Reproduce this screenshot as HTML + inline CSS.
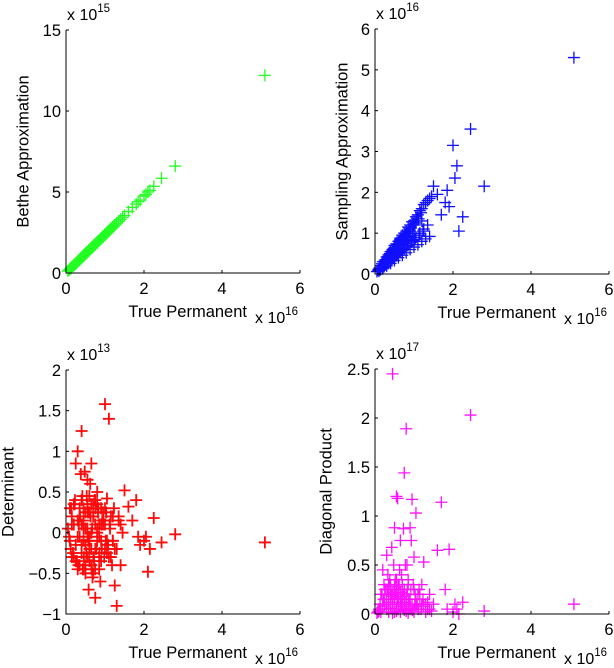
<!DOCTYPE html>
<html><head><meta charset="utf-8">
<style>
html,body{margin:0;padding:0;background:#fff;}
svg{display:block;font-family:"Liberation Sans",Arial,sans-serif;}
</style></head>
<body>
<svg id="fig" width="614" height="668" viewBox="0 0 614 668" xmlns="http://www.w3.org/2000/svg"></svg>
<script>
// Shared true-permanent values (x 1e16)
const truePermanent = [
0.05,0.1,0.15,0.2,0.25,0.3,0.35,0.4,0.45,0.5,0.55,0.6,0.65,0.7,0.75,0.8,0.85,0.9,0.95,1.0,1.05,1.1,1.15,1.2,1.25,1.3,1.35,1.4,
0.08,0.13,0.18,0.23,0.28,0.33,0.38,0.43,0.48,0.53,0.58,0.63,0.68,0.73,0.78,0.83,0.88,0.93,0.98,1.03,1.08,1.13,1.18,1.23,
0.12,0.22,0.32,0.42,0.52,0.62,0.72,0.82,0.92,1.02,1.12,0.36,0.46,0.56,0.66,0.76,0.86,0.96,0.57,0.67,
1.5,1.6,1.7,1.8,1.85,1.9,2.0,2.05,2.1,2.15,2.25,2.45,2.8,5.1,
0.15,0.25,0.35,0.45,0.55,0.65,0.75,0.85,0.95,1.05,0.3,0.4,0.5,0.6,0.7,0.8,0.9,0.5,0.6,0.7,0.55,0.65,0.45,0.75,
0.1,0.2,0.3,0.4,0.5,0.6,0.7,0.8,0.9,1.0,1.1,1.2,1.3,1.4,
0.15,0.25,0.35,0.45,0.55,0.65,0.75,0.85,0.95,1.05,1.15,1.25,1.35,1.45,
0.3,0.4,0.5,0.6,0.7,0.8,0.9,1.0,0.35,0.45,0.55,0.65,0.75,0.85,0.2,0.4,0.6,0.8,1.0,1.2];
// Bethe approximation (x 1e15)
const betheValues = [
0.12,0.24,0.36,0.47,0.59,0.71,0.83,0.95,1.07,1.18,1.30,1.42,1.54,1.66,1.78,1.90,2.01,2.13,2.25,2.37,2.49,2.61,2.73,2.84,2.96,3.08,3.20,3.32,
0.19,0.31,0.43,0.55,0.66,0.78,0.90,1.02,1.14,1.26,1.37,1.49,1.61,1.73,1.85,1.97,2.09,2.20,2.32,2.44,2.56,2.68,2.80,2.92,
0.28,0.52,0.76,1.00,1.23,1.47,1.71,1.94,2.18,2.42,2.65,0.85,1.09,1.33,1.56,1.80,2.04,2.28,1.35,1.59,
3.55,3.8,4.05,4.25,4.4,4.5,4.75,4.85,5.0,5.1,5.35,5.85,6.6,12.2,
0.36,0.59,0.83,1.07,1.30,1.54,1.78,2.01,2.25,2.49,0.71,0.95,1.18,1.42,1.66,1.90,2.13,1.18,1.42,1.66,1.30,1.54,1.07,1.78,
0.24,0.47,0.71,0.95,1.18,1.42,1.66,1.90,2.13,2.37,2.61,2.84,3.08,3.32,
0.36,0.59,0.83,1.07,1.30,1.54,1.78,2.01,2.25,2.49,2.73,2.96,3.20,3.44,
0.71,0.95,1.18,1.42,1.66,1.90,2.13,2.37,0.83,1.07,1.30,1.54,1.78,2.01,0.47,0.95,1.42,1.90,2.37,2.84];
// Sampling approximation (x 1e16)
const samplingValues = [
0.06,0.12,0.2,0.3,0.22,0.42,0.3,0.55,0.38,0.7,0.48,0.8,0.55,0.95,0.62,1.05,0.7,1.2,0.82,1.3,0.9,1.45,1.0,1.6,1.1,1.75,1.2,1.85,
0.1,0.1,0.25,0.18,0.35,0.27,0.5,0.35,0.62,0.45,0.72,0.56,0.85,0.64,0.95,0.7,1.1,0.78,1.2,0.85,1.35,0.95,1.5,1.05,
0.15,0.3,0.4,0.5,0.7,0.8,0.9,1.0,1.15,1.2,1.35,0.28,0.42,0.5,0.6,0.75,0.9,1.0,0.72,0.85,
2.15,1.95,1.45,1.75,2.05,1.65,3.15,2.35,2.65,1.05,1.4,3.55,2.15,5.3,
0.12,0.3,0.28,0.58,0.45,0.85,0.62,1.0,0.8,1.25,0.35,0.5,0.45,0.6,0.9,0.7,1.05,0.65,0.5,0.8,0.6,0.7,0.4,0.9,
0.07,0.13,0.2,0.26,0.33,0.4,0.46,0.52,0.6,0.66,0.72,0.8,0.86,0.92,
0.2,0.34,0.47,0.6,0.74,0.88,1.0,1.15,1.28,1.4,1.55,1.7,1.8,1.9,
0.3,0.4,0.5,0.62,0.72,0.8,0.92,1.0,0.42,0.5,0.62,0.75,0.85,0.95,0.16,0.45,0.55,1.0,0.8,1.3];
// Determinant (x 1e13)
const determinantValues = [
0.05,-0.1,0.2,-0.3,0.85,1.0,-0.4,1.25,0.3,-0.5,0.65,-0.2,0.85,0.35,-0.8,0.5,-0.45,-0.1,0.1,1.58,0.42,1.4,-0.3,-0.1,-0.65,-0.9,0.2,-0.4,
-0.05,0.3,-0.25,0.4,-0.35,0.1,0.72,-0.45,0.75,0.45,-0.7,0.2,-0.55,0.4,-0.2,0.3,-0.6,0.15,-0.3,0.25,-0.15,0.05,-0.4,0.3,
-0.2,0.35,-0.4,0.45,-0.25,0.6,-0.35,0.25,-0.2,-0.1,0.1,0.2,-0.3,0.25,-0.45,0.3,-0.25,0.15,-0.1,0.05,
0.52,0.32,0.15,0.4,-0.05,-0.15,-0.1,-0.05,-0.48,-0.2,0.18,-0.12,-0.02,-0.12,
0.1,-0.15,0.2,-0.1,0.05,-0.2,0.1,-0.05,0.15,-0.1,-0.05,0.1,-0.15,0.25,-0.3,0.0,0.1,0.05,-0.1,0.2,-0.05,0.0,0.15,-0.2,
0.3,0.35,-0.45,0.4,-0.4,0.45,-0.5,0.35,-0.35,0.3,-0.3,0.2,-0.2,0.1,
-0.3,-0.35,0.3,-0.45,0.35,-0.4,0.4,-0.3,0.25,-0.25,0.2,-0.2,0.15,0.0,
0.15,-0.25,0.25,-0.35,0.2,-0.1,0.3,-0.2,-0.05,0.05,-0.3,0.35,-0.45,0.1,0.1,-0.15,-0.05,0.05,0.1,-0.1];
// Diagonal product (x 1e17)
const diagonalValues = [
0.01,0.03,0.05,0.45,0.15,0.6,0.2,0.25,2.45,0.88,1.2,0.3,0.75,0.3,1.44,1.89,0.35,0.88,1.17,0.58,1.03,0.2,0.15,0.3,0.53,0.1,0.05,0.2,
0.02,0.1,0.2,0.3,0.25,0.4,0.35,0.68,0.5,0.2,1.18,0.45,0.4,0.87,0.5,0.25,0.15,0.75,0.3,0.2,0.1,0.25,0.05,0.15,
0.05,0.15,0.25,0.2,0.35,0.3,0.2,0.5,0.25,0.1,0.05,0.3,0.22,0.28,0.18,0.12,0.08,0.04,0.16,0.1,
0.1,0.65,1.14,0.25,0.05,0.66,0.02,0.1,0.05,0.0,0.12,2.03,0.03,0.1,
0.02,0.08,0.12,0.18,0.05,0.22,0.1,0.15,0.05,0.08,0.1,0.28,0.15,0.2,0.12,0.06,0.1,0.3,0.08,0.18,0.22,0.1,0.15,0.25,
0.05,0.1,0.15,0.2,0.25,0.1,0.3,0.2,0.15,0.25,0.05,0.1,0.02,0.05,
0.2,0.25,0.3,0.12,0.35,0.2,0.25,0.3,0.1,0.15,0.2,0.08,0.12,0.03,
0.05,0.1,0.02,0.05,0.08,0.03,0.05,0.02,0.02,0.01,0.03,0.02,0.04,0.01,0.08,0.06,0.1,0.12,0.05,0.08];
const xTicks = ["0","2","4","6"];
const betheTicks = ["0","5","10","15"];
const samplingTicks = ["0","1","2","3","4","5","6"];
const detTicks = ["\u22121","\u22120.5","0","0.5","1","1.5","2"];
const diagTicks = ["0","0.5","1","1.5","2","2.5"];

const NS = "http://www.w3.org/2000/svg";
const svg = document.getElementById('fig');
function mk(tag, attrs, parent){
  const e = document.createElementNS(NS, tag);
  for (const k in attrs) e.setAttribute(k, attrs[k]);
  (parent||svg).appendChild(e);
  return e;
}
const FS = 16.5;
const panels = [
 {name:'bethe', x0:66,x1:300,yTop:30,yBot:273, ymin:0,ymax:15, ticks:betheTicks, ys:betheValues, color:'#22ff22', sw:1.3, ylab:'Bethe Approximation', ylabX:24, exp:'15'},
 {name:'sampling', x0:375,x1:609,yTop:29,yBot:274, ymin:0,ymax:6, ticks:samplingTicks, ys:samplingValues, color:'#1010ff', sw:1.3, ylab:'Sampling Approximation', ylabX:343, exp:'16'},
 {name:'determinant', x0:66,x1:300,yTop:370,yBot:614, ymin:-1,ymax:2, ticks:detTicks, ys:determinantValues, color:'#ff0a0a', sw:1.8, ylab:'Determinant', ylabX:9, exp:'13'},
 {name:'diagonal', x0:375,x1:609,yTop:369,yBot:614, ymin:0,ymax:2.5, ticks:diagTicks, ys:diagonalValues, color:'#ff10ff', sw:1.3, ylab:'Diagonal Product', ylabX:327, exp:'17'}
];
panels.forEach(p=>{
  const g = mk('g',{});
  
  
  const sx = v => p.x0 + (v/6)*(p.x1-p.x0);
  const sy = v => p.yBot - (v-p.ymin)/(p.ymax-p.ymin)*(p.yBot-p.yTop);
  const pg = mk('g',{stroke:p.color,'stroke-width':p.sw}, g);
  
  
  truePermanent.forEach((xv,i)=>{
    const cx = sx(xv), cy = sy(p.ys[i]);
    const pt = mk('path',{d:`M${cx-6},${cy}H${cx+6}M${cx},${cy-6}V${cy+6}`}, pg);
    
    
  });
  const ax = mk('path',{d:`M${p.x0},${p.yTop}V${p.yBot}H${p.x1}`,stroke:'#000',fill:'none','stroke-width':1}, g);
  
  
  xTicks.forEach((t,i)=>{
    const x = sx(+t);
    mk('path',{d:`M${x},${p.yBot}V${p.yBot-3}`,stroke:'#000'}, g);
    const tx = mk('text',{x:x,y:p.yBot+21,'font-size':FS,'text-anchor':'middle'}, g);
    tx.textContent = t;
    
    
  });
  p.ticks.forEach(t=>{
    const v = parseFloat(t.replace('\u2212','-'));
    const y = sy(v);
    mk('path',{d:`M${p.x0},${y}H${p.x0+3}`,stroke:'#000'}, g);
    const tx = mk('text',{x:p.x0-5,y:y+6,'font-size':FS,'text-anchor':'end'}, g);
    tx.textContent = t;
    
    
  });
  const ye = mk('text',{x:p.x0+1,y:p.yTop-10,'font-size':16}, g);
  ye.innerHTML = 'x 10<tspan dy="-8" font-size="11.5">'+p.exp+'</tspan>';
  
  
  const xl = mk('text',{x:p.x1-53,y:p.yBot+44,'font-size':FS,'text-anchor':'end'}, g);
  xl.textContent = 'True Permanent';
  
  
  const xe = mk('text',{x:p.x1-45,y:p.yBot+50,'font-size':16}, g);
  xe.innerHTML = 'x 10<tspan dy="-8" font-size="11.5">16</tspan>';
  
  
  const cy = (p.yTop+p.yBot)/2;
  const yl = mk('text',{x:p.ylabX,y:cy,'font-size':FS,'text-anchor':'middle','dominant-baseline':'middle',transform:`rotate(-90 ${p.ylabX} ${cy})`}, g);
  yl.textContent = p.ylab;
  
  
});
</script>
</body></html>
